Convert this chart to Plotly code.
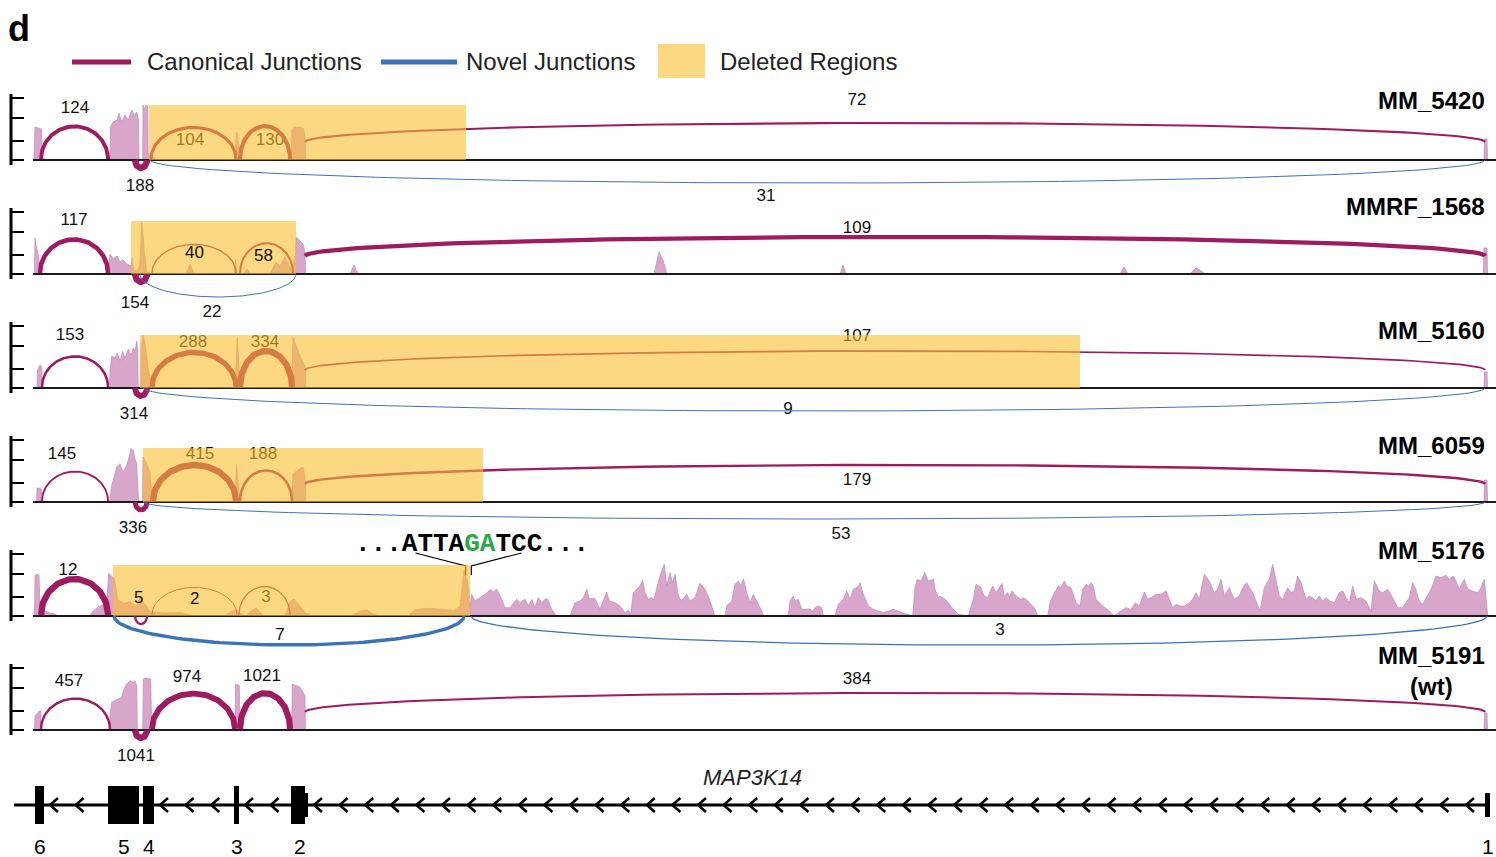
import numpy as np
import plotly.graph_objects as go

W, H = 1496, 857
FONT = "Liberation Sans, Arial, Helvetica, sans-serif"

CANON = "#9E1B60"
NOVEL = "#3A73BA"
COVER = "#D9A6CB"
COVER_EDGE = "#C08AB3"
DELETED_FILL = "rgb(250,190,47)"
DELETED_ALPHA = 0.6

# ---------------- gene model (MAP3K14, minus strand; positions along locus) ----------------
GENE_SPAN = (14, 1490)
EXON_NUMBER = [6, 5, 4, 3, 2, 1]
EXON_START = [35, 108, 143, 234, 291, 1485]
EXON_END = [44, 139, 154, 239, 308, 1490]
CODING_END = [44, 139, 154, 239, 305, 1485]   # beyond this the exon is UTR

# ---------------- per-sample read coverage: (position, depth) ----------------
COV_MM5420 = [
    (33, 0), (34, 1), (35, 33), (40, 31.7), (41.5, 31), (42, 2), (45, 1), (48, 0),
    (110, 0), (110.5, 33), (113, 38), (117, 40), (119, 46.7), (121.7, 38), (125, 45), (128.3, 40),
    (131.7, 50), (134, 45), (136.7, 48), (138.5, 40), (139, 0),
    (142.7, 0), (143, 55), (144, 50), (146, 55), (147.7, 54), (148.2, 6), (150, 5), (153, 3), (156, 1), (160, 0),
    (235, 0), (236.5, 28), (237.5, 26), (240, 0),
    (291, 0), (292, 30), (294, 33), (303, 32), (305, 25), (305.5, 0),
    (1484, 0), (1484.5, 21), (1487, 21), (1487.5, 0),
]
COV_MMRF1568 = [
    (34.5, 0), (35, 36), (35.7, 30), (37, 25), (38.5, 18), (40, 2), (42, 0),
    (108.5, 0), (110, 20), (113, 15), (117, 18), (120, 12), (123, 14), (127, 10), (131, 8),
    (132.5, 17), (133.5, 5), (134.5, 3), (138, 4), (140, 10), (141.7, 52), (143, 40), (144.5, 20),
    (146.7, 3), (150, 0),
    (186, 0), (190, 10), (194, 0),
    (234, 0), (235.5, 14), (237, 0),
    (244, 0), (247, 5), (250, 0),
    (270, 0), (276, 12), (280, 8), (285, 17), (290, 6), (293, 10), (295.5, 20), (296, 37),
    (298, 35), (303, 30), (305, 22), (305.5, 0),
    (350, 0), (354, 9), (358, 0),
    (654, 0), (659, 22), (663, 14), (667, 0),
    (840, 0), (843, 9), (846, 0),
    (1120, 0), (1124, 7), (1128, 0),
    (1190, 0), (1196, 6), (1200, 4), (1205, 0),
    (1483.5, 0), (1484, 26), (1487, 26), (1487.5, 0),
]
COV_MM5160 = [
    (37, 0), (37.5, 18), (40, 23), (41.7, 21), (42.5, 0),
    (109.5, 0), (110, 18), (111.7, 31.7), (115, 30), (117.3, 35), (120, 27), (122.7, 36.7), (125, 30),
    (128.3, 39), (131, 33), (133.3, 40), (135, 37), (136.7, 46.7), (137.7, 40), (138.2, 0),
    (140.5, 0), (141, 40), (143, 53), (145, 45), (148, 20), (151, 3), (152, 0),
    (235, 0), (237.3, 51), (239, 20), (240, 0),
    (291.5, 0), (293, 51), (297, 40), (300, 32), (305, 22), (306, 0),
    (1484, 0), (1484.5, 16), (1487, 16), (1487.5, 0),
]
COV_MM6059 = [
    (36.5, 0), (37, 14), (39, 14), (41, 13), (42.7, 2), (44, 0),
    (109.5, 0), (110, 5), (111.7, 16.7), (115, 28.3), (116.7, 35), (120, 38.3), (122.7, 30), (125, 33),
    (128.3, 41.7), (131, 53.3), (133.3, 51.7), (135, 43.3), (136.7, 38.3), (138.3, 5), (139, 0),
    (142.5, 0), (143, 45), (146, 40), (150, 30), (152, 5), (153, 0),
    (235, 0), (236.5, 38), (238, 20), (240, 0),
    (291.5, 0), (293, 28), (298, 32), (303, 35), (305, 25), (306, 0),
    (1484, 0), (1484.5, 22), (1487, 22), (1487.5, 0),
]
COV_MM5176 = [
    (34.5, 0), (35, 40), (37, 42), (39, 41), (40, 5), (41, 4), (45, 5), (50, 3), (55, 2), (58, 0),
    (90, 0), (92.4, 4.3), (98.4, 9.3), (103, 11), (107, 16), (108.7, 42.7), (112.2, 39.3), (114.2, 37.7),
    (118, 16), (124, 12.7), (130, 14.3), (136, 9.3), (140, 17.7), (145.8, 11), (149.8, 4.3), (165, 3),
    (181, 3.3), (185, 2), (195, 0),
    (225, 0), (230.8, 4.3), (236.7, 6), (240.7, 2), (246, 0), (252.5, 6), (256.5, 7.7), (260.4, 3.3), (264, 0),
    (285, 0), (290, 14.3), (294, 16.7), (300, 9.3), (305.9, 2.7), (312, 0),
    (350, 0), (355, 2), (361, 5.3), (367, 6), (373, 2), (380, 0),
    (408, 0), (414.6, 6), (426.4, 7.7), (442, 6.7), (454, 5.3), (460, 9.3), (464, 46), (468, 32.7), (470, 9.3),
    (471.7, 21.7), (475, 15), (480, 18.3), (485, 21.7), (490.7, 26.7), (493.3, 24), (496.7, 26.7),
    (501.7, 16.7), (505, 8.3), (510, 8.3), (516.7, 16.7), (520, 13.3), (525, 16.7), (528.3, 10),
    (531.7, 16.7), (535, 8.3), (538.3, 18.3), (541.7, 13.3), (545, 16.7), (547.3, 17.3), (551.7, 6.7),
    (556.7, 0), (570, 0), (575, 13.3), (580, 15), (583.3, 18.3), (586.7, 26.7), (589.3, 17.3), (595, 17.3),
    (600, 6.7), (606.7, 24), (609.3, 15), (615, 13.3), (620, 10), (625, 3.3), (628.3, 6), (630.7, 1.7),
    (633.3, 23.3), (640, 30), (642.7, 36), (645, 23.3), (648.3, 16.7), (651.7, 18.3), (654, 16),
    (657.3, 30), (660, 40), (664.3, 51.7), (666.7, 30), (670, 43.3), (672.3, 33.3), (675, 41.7),
    (678.3, 20), (681.7, 15), (686.7, 21.7), (690, 15), (695, 18.3), (700, 32.7), (705, 26.7), (710, 15),
    (715, 0), (725, 0), (726.7, 10), (731.7, 15), (735, 31.7), (738.3, 35), (741, 30), (743.3, 37.3),
    (746.7, 23.3), (750, 13.3), (753.3, 21.7), (758.3, 11.7), (764, 0),
    (788.3, 0), (790, 15), (793.3, 20), (795, 15), (798.3, 16.7), (801.7, 6.7), (806.7, 6.7), (809.3, 7.3),
    (812.7, 5), (816, 9.3), (818.3, 10), (821.7, 8.3), (823.3, 0),
    (835, 0), (838.3, 11.7), (843.3, 16.7), (846.7, 25), (850, 16.7), (853.3, 26.7), (858.3, 29.3),
    (860, 33.3), (863.3, 21.7), (868.3, 10), (873.3, 6.7), (883.3, 3.3), (893.3, 6.7), (900, 4),
    (908.3, 1.7), (912.7, 0), (915, 28.3), (917.3, 36.7), (920.7, 35), (925, 43.3), (928.3, 35),
    (933.3, 36.7), (935, 26.7), (938.3, 18.3), (940, 20), (945, 16.7), (948.3, 13.3), (953.3, 6.7),
    (958.3, 1.7), (968.3, 0), (973.3, 16.7), (976, 31.7), (981, 28.3), (984.3, 20), (987.7, 18.3),
    (992.7, 30), (996, 23.3), (999.3, 28.3), (1002, 32.7), (1004.3, 20), (1007.7, 23.3), (1009.3, 18.3),
    (1012, 25), (1016, 20), (1021, 16.7), (1022.7, 18.3), (1026, 16.7), (1029.3, 13.3), (1034.3, 8.3),
    (1037.7, 0), (1047.7, 0), (1050, 13.3), (1054.3, 23.3), (1058.7, 30), (1061, 28.3), (1064.3, 35),
    (1066.7, 30), (1071, 28.3), (1076, 13.3), (1080, 10), (1082.7, 26.7), (1086, 31.7), (1088.7, 30),
    (1091, 33.3), (1093.3, 30), (1096, 16.7), (1102.7, 10), (1109.3, 5), (1114.3, 0), (1119.3, 4),
    (1126, 8.3), (1131, 6.7), (1135.3, 13.3), (1139.3, 10), (1144.3, 24), (1147.7, 16.7), (1151, 18.3),
    (1156, 21.7), (1161, 21.7), (1166, 25), (1169.3, 16.7), (1172.7, 8.3), (1176, 11.7), (1179.3, 10),
    (1184.3, 10), (1189.3, 13.3), (1192.7, 16.7), (1196, 23.3), (1199.3, 16.7), (1204.3, 41.7),
    (1209.3, 35), (1214.3, 23.3), (1217.7, 26.7), (1221, 36.7), (1224.3, 20), (1229.3, 28.3),
    (1234.3, 16.7), (1239.3, 20), (1242.7, 28.3), (1246.7, 33.3), (1252.7, 23.3), (1260, 5),
    (1264.3, 28.3), (1269.3, 36.7), (1272.7, 51.7), (1276, 35), (1279.3, 20), (1282.7, 16.7),
    (1287.7, 28.3), (1291, 23.3), (1294.3, 25), (1297.7, 40), (1301, 33.3), (1306, 16.7), (1309.3, 20),
    (1312.7, 18.3), (1316, 15), (1319.3, 20), (1322.7, 15), (1326, 18.3), (1330, 15), (1334.3, 13.3),
    (1339.3, 23.3), (1342.7, 25), (1346, 18.3), (1349.3, 13.3), (1352.7, 30), (1356, 16.7), (1361, 18.3),
    (1366, 15), (1371, 5), (1374.3, 35), (1379.3, 25), (1382.7, 23.3), (1387.7, 26.7), (1392.7, 18.3),
    (1397.7, 8.3), (1402.7, 8.3), (1409.3, 18.3), (1412.7, 33.3), (1415.3, 28.3), (1419.3, 15),
    (1422.7, 11.7), (1431, 26.7), (1436, 40), (1441, 38.3), (1446, 40.7), (1449.3, 36.7), (1453.3, 40),
    (1456, 35), (1459.3, 26.7), (1464.3, 36.7), (1467.7, 26.7), (1472.7, 25), (1477.7, 23.3),
    (1481, 28.3), (1484.3, 36.7), (1487.7, 0),
]
COV_MM5191 = [
    (34.5, 0), (35, 14), (39.3, 19), (40.7, 19), (41.2, 0),
    (109.3, 0), (110, 14.3), (111.7, 27.7), (115, 29.3), (118.3, 31), (121.7, 32.7), (124, 41),
    (126.7, 46), (130, 49.3), (133.3, 47.7), (135, 49.3), (136.7, 44.3), (137.3, 0),
    (142.7, 0), (143.3, 51), (146.7, 52), (150.7, 51), (151.7, 0),
    (235, 0), (235.7, 46), (239.3, 44.3), (240, 0),
    (291.7, 0), (292.3, 46), (300, 42.7), (305, 34.3), (305.3, 0),
    (1484, 0), (1484.5, 17), (1487, 17), (1487.5, 0),
]

# ---------------- splice junctions: (donor, acceptor, reads, type) ----------------
JUNC_MM5420 = [(41, 108, 124, "canonical"), (139, 143, 188, "canonical"), (151, 236, 104, "canonical"),
               (240, 290, 130, "canonical"), (305, 1485, 72, "canonical"), (150, 1485, 31, "novel")]
JUNC_MMRF1568 = [(40, 108, 117, "canonical"), (139, 143, 154, "canonical"), (152, 236, 40, "canonical"),
                 (240, 293, 58, "canonical"), (305, 1485, 109, "canonical"), (140, 296, 22, "novel")]
JUNC_MM5160 = [(42, 108, 153, "canonical"), (139, 143, 314, "canonical"), (152, 236, 288, "canonical"),
               (240, 292, 334, "canonical"), (305, 1485, 107, "canonical"), (143, 1485, 9, "novel")]
JUNC_MM6059 = [(42, 108, 145, "canonical"), (139, 143, 336, "canonical"), (153, 236, 415, "canonical"),
               (240, 292, 188, "canonical"), (305, 1485, 179, "canonical"), (143, 1485, 53, "novel")]
JUNC_MM5176 = [(41, 108, 12, "canonical"), (139, 143, 5, "canonical"), (152, 237, 2, "canonical"),
               (239, 290, 3, "canonical"), (114, 464, 7, "novel"), (471, 1487, 3, "novel")]
JUNC_MM5191 = [(41, 110, 457, "canonical"), (139, 143, 1041, "canonical"), (152, 235, 974, "canonical"),
               (240, 290, 1021, "canonical"), (305, 1485, 384, "canonical")]

# read-count label anchors (position, depth), same order as the junction lists
LBL_MM5420 = [(75, 51), (140, -27), (190, 19), (270, 19), (857, 59), (766, -37)]
LBL_MMRF1568 = [(74, 53), (135, -30), (194, 21), (263, 18), (857, 45), (212, -39)]
LBL_MM5160 = [(70, 52), (134, -27), (193, 45), (265, 45), (857, 51), (788, -22)]
LBL_MM6059 = [(62, 47), (133, -27), (200, 47), (263, 47), (857, 21), (841, -33)]
LBL_MM5176 = [(68, 45), (138, 19), (194, 18), (266, 18), (280, -20), (1000, -15)]
LBL_MM5191 = [(69, 48), (136, -27), (187, 52), (262, 53), (857, 50)]

# counts whose label sits on top of the deleted-region shading
LBL_ON_TOP = {"MMRF_1568": {40, 58}, "MM_5176": {5, 2}}

# deleted genomic intervals
DELETED = {"MM_5420": (149, 466), "MMRF_1568": (131, 296), "MM_5160": (140, 1080),
           "MM_6059": (143, 483), "MM_5176": (113, 470)}

# breakpoint sequence in MM_5176
BREAK_SITE = 468.5

TRACKS = [
    dict(name="MM_5420", title="MM_5420", cov=COV_MM5420, junc=JUNC_MM5420, lbl=LBL_MM5420),
    dict(name="MMRF_1568", title="MMRF_1568", cov=COV_MMRF1568, junc=JUNC_MMRF1568, lbl=LBL_MMRF1568),
    dict(name="MM_5160", title="MM_5160", cov=COV_MM5160, junc=JUNC_MM5160, lbl=LBL_MM5160),
    dict(name="MM_6059", title="MM_6059", cov=COV_MM6059, junc=JUNC_MM6059, lbl=LBL_MM6059),
    dict(name="MM_5176", title="MM_5176", cov=COV_MM5176, junc=JUNC_MM5176, lbl=LBL_MM5176),
    dict(name="MM_5191", title="MM_5191<br>(wt)", cov=COV_MM5191, junc=JUNC_MM5191, lbl=LBL_MM5191),
]

# ---- layout of the stacked tracks (pixels) ----
BASE_PX = [160, 274, 388, 502, 616, 730]
TITLE_DEPTH = [60, 67, 58, 57, 66, 59]
NOVEL_DEPTH = [23, 23, 23, 17, 29, 23]
DEL_HEIGHT = [55, 53, 53, 54, 51, 0]
Y_TOP, Y_BOT = 68, -45
TICKS = [0, 19, 42, 62]


def dom(top_px, bot_px):
    return [1 - bot_px / H, 1 - top_px / H]


def py(p):
    return 1 - p / H


def arc(x0, x1, foot, peak, n=90):
    th = np.linspace(0, np.pi, n)
    xc, a = (x0 + x1) / 2, (x1 - x0) / 2
    return xc - a * np.cos(th), foot + (peak - foot) * np.sin(th)


fig = go.Figure()
shapes, annotations = [], []
layout_axes = {}

for i, tr in enumerate(TRACKS):
    yid = "y" if i == 0 else f"y{i + 1}"
    ykey = "yaxis" if i == 0 else f"yaxis{i + 1}"
    base = BASE_PX[i]
    layout_axes[ykey] = dict(domain=dom(base - Y_TOP, base - Y_BOT), range=[Y_BOT, Y_TOP],
                             visible=False, fixedrange=True)

    cx, cy = zip(*tr["cov"])
    fig.add_trace(go.Scatter(x=cx, y=cy, mode="lines", fill="tozeroy", fillcolor=COVER,
                             line=dict(color=COVER_EDGE, width=0.7), xaxis="x", yaxis=yid,
                             hoverinfo="skip", showlegend=False))
    fig.add_trace(go.Scatter(x=[33, W], y=[0, 0], mode="lines", line=dict(color="#1a1a1a", width=2.2),
                             xaxis="x", yaxis=yid, hoverinfo="skip", showlegend=False))

    counts = [j[2] for j in tr["junc"]]
    cmax = max(counts)
    on_top = LBL_ON_TOP.get(tr["name"], set())

    # read-count labels (those under the shading are drawn as trace text)
    lx, ly, lt = [], [], []
    for (s, e, c, kind), (px, pd) in zip(tr["junc"], tr["lbl"]):
        if c in on_top:
            annotations.append(dict(x=px, y=pd, xref="x", yref=yid, text=str(c), showarrow=False,
                                    font=dict(family=FONT, size=17, color="#111")))
        else:
            lx.append(px); ly.append(pd); lt.append(str(c))
    fig.add_trace(go.Scatter(x=lx, y=ly, text=lt, mode="text", cliponaxis=False,
                             textfont=dict(family=FONT, size=17, color="#111"), xaxis="x", yaxis=yid,
                             hoverinfo="skip", showlegend=False))

    for (s, e, c, kind) in tr["junc"]:
        width = max(1.0, 6.3 * (c / cmax) ** 1.15)
        span = e - s
        if kind == "novel":
            xs, ys = arc(s, e, 0, -NOVEL_DEPTH[i])
            col = NOVEL
        elif span < 10:
            mid = (s + e) / 2
            xs, ys = arc(mid - 6, mid + 6, 0, -8)
            col = CANON
        elif span > 400:
            xs, ys = arc(s, e, 18, 37)
            col = CANON
        else:
            xs, ys = arc(s, e, 1, 27 + 10 * c / cmax)
            col = CANON
        fig.add_trace(go.Scatter(x=xs, y=ys, mode="lines", line=dict(color=col, width=width),
                                 xaxis="x", yaxis=yid, hoverinfo="skip", showlegend=False))

    if tr["name"] in DELETED:
        d0, d1 = DELETED[tr["name"]]
        shapes.append(dict(type="rect", xref="x", yref=yid, x0=d0, x1=d1, y0=0, y1=DEL_HEIGHT[i],
                           fillcolor=DELETED_FILL, opacity=DELETED_ALPHA, line=dict(width=0), layer="above"))

    # depth axis
    shapes.append(dict(type="line", xref="paper", yref=yid, x0=11 / W, x1=11 / W, y0=-5, y1=TICKS[-1] + 4,
                       line=dict(color="black", width=3)))
    for t in TICKS:
        shapes.append(dict(type="line", xref="paper", yref=yid, x0=11 / W, x1=24 / W, y0=t, y1=t,
                           line=dict(color="black", width=2)))

    annotations.append(dict(x=1487, y=TITLE_DEPTH[i], xref="x", yref=yid, text=f"<b>{tr['title']}</b>",
                            showarrow=False, xanchor="right", yanchor="middle", align="center",
                            font=dict(family=FONT, size=24, color="black")))

# breakpoint sequence call-out (MM_5176)
for side in (-1, 1):
    fig.add_trace(go.Scatter(x=[BREAK_SITE + side * 53, BREAK_SITE + side * 2.8, BREAK_SITE + side * 2.8],
                             y=[63, 50, 41], mode="lines", line=dict(color="black", width=1.2),
                             xaxis="x", yaxis="y5", hoverinfo="skip", showlegend=False))
annotations.append(dict(x=BREAK_SITE + 3, y=py(544), xref="x", yref="paper", showarrow=False,
                        yanchor="middle",
                        text="<b>...ATTA<span style='color:#2BA84A'>GA</span>TCC...</b>",
                        font=dict(family="Liberation Mono, Courier New, monospace", size=26, color="black")))

# ---------------- gene model ----------------
layout_axes["yaxis7"] = dict(domain=dom(776, 857), range=[-52, 29], visible=False, fixedrange=True)
fig.add_trace(go.Scatter(x=list(GENE_SPAN), y=[0, 0], mode="lines", line=dict(color="black", width=3),
                         xaxis="x", yaxis="y7", hoverinfo="skip", showlegend=False))
chev_x, chev_y = [], []
order = np.argsort(EXON_START)
for a, b in zip(order[:-1], order[1:]):
    tip = EXON_END[a] + 6
    while tip + 10 < EXON_START[b]:
        chev_x += [tip + 8, tip, tip + 8, None]
        chev_y += [7, 0, -7, None]
        tip += 25.6
fig.add_trace(go.Scatter(x=chev_x, y=chev_y, mode="lines", line=dict(color="black", width=2.5),
                         xaxis="x", yaxis="y7", hoverinfo="skip", showlegend=False))
for num, s, e, ce in zip(EXON_NUMBER, EXON_START, EXON_END, CODING_END):
    if ce > s:
        shapes.append(dict(type="rect", xref="x", yref="y7", x0=s, x1=ce, y0=-19, y1=19,
                           fillcolor="black", line=dict(width=0)))
    if e > ce:
        shapes.append(dict(type="rect", xref="x", yref="y7", x0=ce, x1=e, y0=-12, y1=12,
                           fillcolor="black", line=dict(width=0)))
    annotations.append(dict(x=(s + e) / 2, y=-41, xref="x", yref="y7", text=str(num), showarrow=False,
                            font=dict(family=FONT, size=21, color="black")))
annotations.append(dict(x=sum(GENE_SPAN) / 2, y=28, xref="x", yref="y7", text="<i>MAP3K14</i>",
                        showarrow=False, yanchor="middle", font=dict(family=FONT, size=22, color="#222")))

# ---------------- legend & panel letter ----------------
shapes += [
    dict(type="line", xref="paper", yref="paper", x0=72 / W, x1=131 / W, y0=py(62), y1=py(62),
         line=dict(color=CANON, width=5)),
    dict(type="line", xref="paper", yref="paper", x0=381 / W, x1=457 / W, y0=py(62), y1=py(62),
         line=dict(color=NOVEL, width=5)),
    dict(type="rect", xref="paper", yref="paper", x0=658 / W, x1=705 / W, y0=py(78), y1=py(44),
         fillcolor=DELETED_FILL, opacity=DELETED_ALPHA, line=dict(width=0)),
]
for x, txt in ((145, "Canonical Junctions"), (464, "Novel Junctions"), (718, "Deleted Regions")):
    annotations.append(dict(x=x / W, y=py(62), xref="paper", yref="paper", text=txt, showarrow=False,
                            xanchor="left", yanchor="middle", font=dict(family=FONT, size=24, color="#222")))
annotations.append(dict(x=6 / W, y=py(28), xref="paper", yref="paper", text="<b>d</b>", showarrow=False,
                        xanchor="left", yanchor="middle", font=dict(family=FONT, size=36, color="black")))

fig.update_layout(
    width=W, height=H, margin=dict(l=0, r=0, t=0, b=0),
    paper_bgcolor="white", plot_bgcolor="rgba(0,0,0,0)", showlegend=False,
    xaxis=dict(domain=[0, 1], range=[0, W], visible=False, fixedrange=True),
    shapes=shapes, annotations=annotations, **layout_axes,
)
fig.write_html("out.html", config={"displayModeBar": False})
